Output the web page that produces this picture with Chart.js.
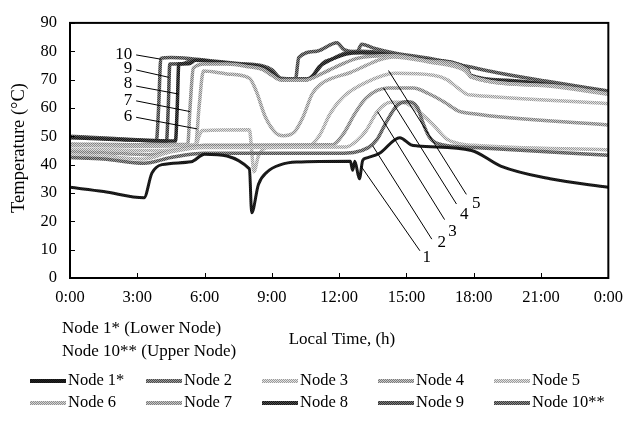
<!DOCTYPE html>
<html>
<head>
<meta charset="utf-8">
<script src="https://cdn.jsdelivr.net/npm/chart.js@4.4.0/dist/chart.umd.min.js"></script>
<style>
  html, body { margin: 0; padding: 0; background: #fff; }
</style>
</head>
<body>
<canvas id="myChart" width="633" height="423"></canvas>
<script>
const ctx = document.getElementById("myChart");

// x ticks in hours, labels shown under the axis
const xTickValues = [0, 3, 6, 9, 12, 15, 18, 21, 24];
const xTickLabels = ["0:00", "3:00", "6:00", "9:00", "12:00", "15:00", "18:00", "21:00", "0:00"];
const yTickValues = [0, 10, 20, 30, 40, 50, 60, 70, 80, 90];

const nodeLabels = ["Node 1*", "Node 2", "Node 3", "Node 4", "Node 5",
                    "Node 6", "Node 7", "Node 8", "Node 9", "Node 10**"];

// [hour, temperature °C]
const node1 = [[0,32],[1.5,30.5],[3.3,28.3],[3.65,37],[4.1,40],[5.4,41],[6.0,43.7],[8.0,38.5],[8.1,23],
  [8.4,33],[8.8,37.5],[9.4,40],[10.1,40.9],[12.5,41.2],[12.6,38],[12.7,41.2],[12.9,35],[13.05,41.5],
  [13.2,42.3],[13.8,44],[14.7,49.5],[15.2,47],[15.5,46.6],[17.9,45],[19.2,39.5],[21.4,35],[24,32]];
const node2 = [[0,42.5],[1.5,42],[3.3,40.5],[4.5,42.5],[6,44],[9,44],[12,44],[13.3,46],[13.7,49],
  [14.1,55],[14.6,61],[15.0,62.2],[15.5,60],[15.7,55.5],[16.0,50],[16.4,47.4],[18,46],[24,43.3]];
const node3 = [[0,43.5],[1.5,43],[3.3,42],[4.5,44.5],[6,46],[12.3,46.2],[12.8,48.5],[13.2,52],
  [13.7,58.7],[14.3,62],[14.8,62],[15.5,59],[16.2,54],[16.8,49],[17.3,47.5],[18,46.8],[24,45.2]];
const node4 = [[0,44.5],[1.5,44.2],[3.5,43.5],[5,45.5],[6,46.8],[11.7,47],[12.2,51],[12.7,58],
  [13.2,63.5],[14.2,67],[15.3,67],[16,65],[16.7,62],[17.3,59],[17.9,58],[24,54]];
const node5 = [[0,45.5],[3.5,45],[5.6,46.5],[5.75,50],[5.9,52],[8.0,52.3],[8.1,45],[8.2,37.5],
  [8.4,43],[8.8,46],[10.6,46.5],[11.1,50],[11.6,58],[12.2,64],[13.2,69],[14.5,72.2],[16.2,71.5],
  [16.8,70],[17.3,67],[17.7,64.8],[18,64.5],[24,61.5]];
const node6 = [[0,46.8],[3.5,46.5],[5.6,47],[5.75,60],[5.95,73],[7,72],[8.0,70.5],[8.3,66],[8.7,57],
  [9.2,51],[9.5,50.2],[10,51.5],[10.4,57],[10.8,65],[11.2,68.5],[11.7,70.5],[12.5,72.5],[13.2,75],
  [13.8,77],[14.4,78],[16,76.2],[17.6,73.2],[17.9,71],[21.2,67.8],[24,64.8]];
const node7 = [[0,47.3],[3.5,47],[5.25,47.2],[5.35,60],[5.5,74],[6,75.5],[7,75.5],[8.0,74.5],
  [8.6,73.5],[9.0,71.5],[9.4,69.8],[10.5,69.8],[11.2,72],[12,75],[12.8,77.5],[14.4,78.5],[16,76.6],
  [17.7,73.6],[17.85,71],[21.2,68],[24,65]];
const node8 = [[0,49.5],[2,48.9],[4.7,48.3],[4.78,60],[4.85,75.5],[5.3,75.6],[5.6,76.8],[6.5,76.2],
  [7.5,75.4],[8.6,74.3],[9.0,72.5],[9.4,70],[10.4,69.8],[10.8,71],[11.1,74.5],[11.5,76.5],[12.3,79],
  [13,79.5],[14.4,78.7],[16,76.8],[17.7,73.8],[17.85,71.3],[19.5,69.5],[21.2,68.4],[24,65]];
const node9 = [[0,49.8],[2,49],[4.3,48.3],[4.38,60],[4.45,75.5],[5,75.6],[5.5,77],[6.5,76.3],
  [7.5,75.5],[8.6,74.5],[9.0,73],[9.4,70.3],[10.6,70.3],[11.0,73],[11.3,76],[11.7,77.3],[12.3,79.5],
  [13,80],[14.4,79],[16,77],[17.7,74],[17.85,71.6],[19.5,69.8],[21.2,68.6],[24,65.5]];
const node10 = [[0,50],[2,49.2],[3.85,48.5],[3.95,60],[4.05,77.5],[4.5,77.8],[5.5,77.3],[6.5,76.5],
  [7.5,75.7],[8.6,74.8],[9.0,73.5],[9.4,70.5],[10.05,70.2],[10.2,77.8],[11.0,80],[11.9,83],[12.2,80.7],
  [12.8,79.8],[13.0,82.5],[13.5,81.2],[14.4,79.5],[16,77.5],[17.8,74.5],[19,72.5],[21.2,69.5],[24,66]];

const nodes = [node1, node2, node3, node4, node5, node6, node7, node8, node9, node10];

// dithered look of the printed lines: [dark pixel, light pixel]
const nodeInks = [["#111111", "#222222"], ["#4a4a4a", "#9a9a9a"], ["#9a9a9a", "#e2e2e2"],
                  ["#7a7a7a", "#c8c8c8"], ["#9c9c9c", "#e2e2e2"], ["#8e8e8e", "#d6d6d6"],
                  ["#7c7c7c", "#c8c8c8"], ["#141414", "#4e4e4e"], ["#333333", "#7c7c7c"],
                  ["#3a3a3a", "#8a8a8a"]];
const nodeWidths = [3, 3.5, 3.5, 3.5, 3.5, 3.5, 3.5, 3.5, 3.5, 3.5];

const dither = (dark, light) => {
  const cv = document.createElement("canvas");
  cv.width = 2; cv.height = 2;
  const g = cv.getContext("2d");
  g.fillStyle = light; g.fillRect(0, 0, 2, 2);
  g.fillStyle = dark; g.fillRect(0, 0, 1, 1); g.fillRect(1, 1, 1, 1);
  return g.createPattern(cv, "repeat");
};

// number labels with leader lines: [text, textHour, textTemp, fromHour, fromTemp, toHour, toTemp]
const upperNotes = [
  ["10", 2.77, 79.0, 2.95, 78.7, 4.05, 77.2],
  ["9", 2.77, 73.9, 2.95, 73.4, 4.40, 70.8],
  ["8", 2.77, 68.7, 2.95, 67.7, 4.84, 64.9],
  ["7", 2.77, 62.5, 2.95, 62.5, 5.36, 58.7],
  ["6", 2.77, 57.0, 2.95, 56.7, 5.67, 52.6]
];
const lowerNotes = [
  ["1", 15.91, 7.2, 15.60, 9.6, 12.97, 39.5],
  ["2", 16.57, 12.4, 16.13, 13.7, 13.49, 46.7],
  ["3", 17.05, 16.5, 16.70, 20.6, 13.71, 58.7],
  ["4", 17.58, 22.3, 17.23, 26.1, 13.98, 67.0],
  ["5", 18.11, 26.1, 17.67, 29.5, 14.20, 73.2]
];

const FONT = "'Liberation Serif', 'Times New Roman', serif";

const decor = {
  id: "decor",
  afterDatasetsDraw(chart) {
    const c = chart.ctx;
    const a = chart.chartArea;
    const x = chart.scales.x;
    const y = chart.scales.y;
    c.save();
    c.strokeStyle = "#000";
    c.lineWidth = 2;
    c.strokeRect(a.left, a.top, a.right - a.left, a.bottom - a.top);

    // inner tick marks
    c.lineWidth = 1;
    c.beginPath();
    xTickValues.forEach(v => {
      const px = Math.round(x.getPixelForValue(v)) + 0.5;
      c.moveTo(px, a.bottom); c.lineTo(px, a.bottom - 5);
    });
    yTickValues.forEach(v => {
      const py = Math.round(y.getPixelForValue(v)) + 0.5;
      c.moveTo(a.left, py); c.lineTo(a.left + 5, py);
    });
    c.stroke();

    // leader lines and numbers
    c.font = "17px " + FONT;
    c.fillStyle = "#000";
    c.textBaseline = "middle";
    upperNotes.concat(lowerNotes).forEach((n, i) => {
      c.beginPath();
      c.moveTo(x.getPixelForValue(n[3]), y.getPixelForValue(n[4]));
      c.lineTo(x.getPixelForValue(n[5]), y.getPixelForValue(n[6]));
      c.stroke();
      c.textAlign = i < upperNotes.length ? "right" : "center";
      c.fillText(n[0], x.getPixelForValue(n[1]), y.getPixelForValue(n[2]));
    });
    c.restore();
  },
  afterDraw(chart) {
    const c = chart.ctx;
    c.save();
    c.fillStyle = "#000";
    c.textBaseline = "middle";

    // axis titles
    c.save();
    c.font = "18.5px " + FONT;
    c.translate(19, 148);
    c.rotate(-Math.PI / 2);
    c.textAlign = "center";
    c.fillText("Temperature (°C)", 0, 0);
    c.restore();
    c.font = "17px " + FONT;
    c.textAlign = "center";
    c.fillText("Local Time, (h)", 342, 340);
    c.textAlign = "left";
    c.fillText("Node 1* (Lower Node)", 62, 329);
    c.fillText("Node 10** (Upper Node)", 62, 352);

    // legend
    c.font = "16.5px " + FONT;
    chart.data.datasets.forEach((ds, i) => {
      const col = i % 5;
      const row = Math.floor(i / 5);
      const lx = 30 + col * 116;
      const ly = 381 + row * 22;
      c.strokeStyle = ds.borderColor;
      c.lineWidth = 4;
      c.beginPath();
      c.moveTo(lx, ly); c.lineTo(lx + 36, ly);
      c.stroke();
      c.fillText(ds.label, lx + 38, ly);
    });
    c.restore();
  }
};

new Chart(ctx, {
  type: "line",
  data: {
    datasets: nodes.map((d, i) => ({
      label: nodeLabels[i],
      data: d,
      borderColor: dither(nodeInks[i][0], nodeInks[i][1]),
      borderWidth: nodeWidths[i],
      pointRadius: 0,
      tension: 0.3,
      cubicInterpolationMode: "monotone",
      fill: false
    }))
  },
  options: {
    responsive: false,
    animation: false,
    layout: { padding: { left: 0, right: 17, top: 16, bottom: 0 } },
    plugins: { legend: { display: false }, tooltip: { enabled: false } },
    scales: {
      x: {
        type: "linear",
        min: 0,
        max: 24,
        afterBuildTicks: s => { s.ticks = xTickValues.map(v => ({ value: v })); },
        ticks: {
          callback: (v, i) => xTickLabels[i],
          font: { family: FONT, size: 16.5 },
          color: "#000",
          padding: 10,
          maxRotation: 0,
          autoSkip: false
        },
        grid: { display: false, drawTicks: false },
        border: { display: false },
        afterFit: s => { s.height = 145; }
      },
      y: {
        min: 0,
        max: 90,
        afterBuildTicks: s => { s.ticks = yTickValues.map(v => ({ value: v })); },
        ticks: {
          font: { family: FONT, size: 16.5 },
          color: "#000",
          padding: 13
        },
        grid: { display: false, drawTicks: false },
        border: { display: false },
        afterFit: s => { s.width = 70; }
      }
    }
  },
  plugins: [decor]
});
</script>
</body>
</html>
